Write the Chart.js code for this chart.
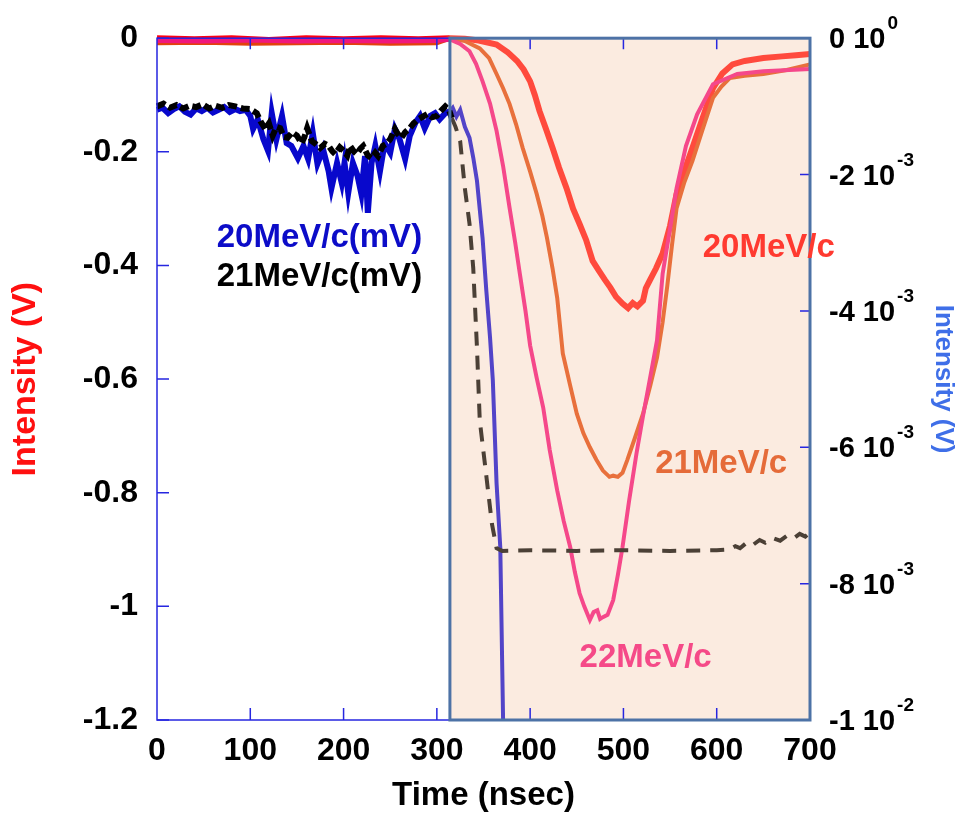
<!DOCTYPE html>
<html>
<head>
<meta charset="utf-8">
<title>Intensity vs time</title>
<script src="https://cdn.jsdelivr.net/npm/chart.js@4.4.1/dist/chart.umd.min.js"></script>
<style>
  html, body { margin: 0; padding: 0; background: #fff; }
  #wrap { width: 959px; height: 816px; }
</style>
</head>
<body>
<div id="wrap"><canvas id="plot" width="959" height="816"></canvas></div>
<script>
const FONT = '"Liberation Sans", Arial, Helvetica, sans-serif';

// the shaded box (close-up traces) starts here, in nsec
const insetStart = 314;

// 20MeV/c and 21MeV/c small signals, in mV (right axis)
const blueTime = [0,6,12,18,24,30,36,42,48,54,60,66,72,78,84,89,95,100,103,108,114,119,123,128,134,139,144,151,157,162,167,172,178,184,187,193,198,201,205,210,215,219,223,226,230,234,239,244,250,255,260,266,271,277,282,287,293,298,303,309,314,317,321,325,330,335,339,343,349,353,357,360,364,368,371];
const blueMv = [-1.05,-1.02,-1.10,-1.04,-1.00,-1.08,-1.12,-1.03,-1.07,-1.02,-1.09,-1.05,-1.01,-1.08,-1.04,-1.07,-1.05,-1.14,-1.33,-1.19,-1.48,-1.65,-1.10,-1.48,-1.14,-1.54,-1.58,-1.76,-1.58,-1.77,-1.39,-1.84,-1.63,-1.95,-2.20,-1.83,-2.12,-1.83,-2.27,-1.83,-2.02,-2.28,-1.73,-2.56,-1.83,-1.58,-1.95,-1.54,-1.68,-1.33,-1.48,-1.77,-1.43,-1.24,-1.14,-1.32,-1.14,-1.10,-1.19,-1.10,-1.07,-1.02,-1.15,-1.05,-1.30,-1.46,-1.75,-2.09,-2.93,-3.70,-4.39,-5.02,-6.53,-7.47,-10.0];

const blackTime = [0,7,14,21,28,35,42,49,56,63,70,77,84,92,100,107,111,116,120,124,128,132,136,140,145,150,155,158,161,166,170,175,180,184,188,191,196,200,204,207,211,214,218,221,226,230,234,237,242,246,250,255,258,262,266,271,275,280,285,290,295,300,304,309,313,316,320,325,330,335,339,343,346,352,359,364,370,400,450,500,550,600,614,620,625,632,638,646,652,660,668,675,682,689,695,700];
const blackMv = [-1.00,-0.96,-1.02,-0.98,-1.03,-0.99,-1.01,-0.97,-1.03,-0.99,-1.02,-0.98,-1.00,-1.03,-1.04,-1.10,-1.22,-1.33,-1.25,-1.43,-1.30,-1.32,-1.45,-1.46,-1.38,-1.43,-1.54,-1.45,-1.32,-1.51,-1.55,-1.61,-1.55,-1.58,-1.66,-1.70,-1.60,-1.65,-1.72,-1.58,-1.66,-1.70,-1.62,-1.58,-1.72,-1.76,-1.68,-1.73,-1.58,-1.55,-1.48,-1.33,-1.40,-1.46,-1.38,-1.32,-1.25,-1.19,-1.15,-1.11,-1.16,-1.14,-1.07,-1.00,-1.05,-1.17,-1.30,-1.51,-2.20,-2.72,-3.37,-4.54,-5.61,-6.30,-7.12,-7.48,-7.52,-7.51,-7.52,-7.51,-7.52,-7.51,-7.50,-7.45,-7.48,-7.40,-7.44,-7.36,-7.40,-7.33,-7.37,-7.30,-7.34,-7.27,-7.31,-7.25];

// large signals, in V (left axis)
const red20Time = [0,40,80,120,160,200,240,280,314,330,345,364,376,386,393,400,405,410,417,424,431,439,446,453,460,467,474,480,486,492,499,505,510,515,521,524,528,535,542,550,557,565,574,585,596,606,617,630,650,670,685,700];
const red20V = [0,-0.002,0,-0.003,0,-0.002,0,-0.002,0,-0.001,-0.004,-0.011,-0.025,-0.040,-0.055,-0.076,-0.100,-0.128,-0.160,-0.193,-0.228,-0.264,-0.300,-0.327,-0.355,-0.392,-0.410,-0.425,-0.439,-0.455,-0.467,-0.475,-0.466,-0.472,-0.462,-0.440,-0.427,-0.405,-0.379,-0.330,-0.274,-0.235,-0.193,-0.140,-0.088,-0.062,-0.046,-0.040,-0.035,-0.032,-0.030,-0.028];

const orange21Time = [0,50,100,150,200,250,300,314,330,346,356,364,371,378,385,392,400,407,413,418,424,429,435,443,450,457,464,471,478,485,489,494,499,504,512,521,529,536,542,547,552,557,565,574,585,596,605,614,630,650,675,700];
const orange21V = [-0.008,-0.007,-0.009,-0.008,-0.007,-0.009,-0.008,0,-0.005,-0.018,-0.035,-0.063,-0.088,-0.116,-0.152,-0.193,-0.235,-0.274,-0.312,-0.351,-0.405,-0.457,-0.555,-0.612,-0.661,-0.695,-0.720,-0.742,-0.761,-0.772,-0.770,-0.772,-0.765,-0.743,-0.705,-0.661,-0.610,-0.562,-0.500,-0.436,-0.365,-0.299,-0.255,-0.216,-0.160,-0.105,-0.085,-0.070,-0.066,-0.063,-0.056,-0.046];

const pink22Time = [0,50,100,150,200,250,300,314,325,335,342,349,357,364,371,378,384,389,395,400,407,414,421,429,436,443,448,453,458,464,468,472,475,478,483,489,494,499,506,514,521,528,536,542,550,557,567,579,596,622,650,700];
const pink22V = [-0.004,-0.005,-0.003,-0.005,-0.004,-0.005,-0.004,-0.002,-0.010,-0.023,-0.045,-0.076,-0.115,-0.163,-0.225,-0.299,-0.360,-0.415,-0.480,-0.541,-0.598,-0.650,-0.725,-0.796,-0.850,-0.896,-0.940,-0.977,-1.000,-1.024,-1.010,-1.007,-1.022,-1.019,-1.015,-0.989,-0.945,-0.896,-0.815,-0.731,-0.665,-0.603,-0.532,-0.415,-0.335,-0.264,-0.190,-0.134,-0.081,-0.063,-0.058,-0.054];

// right axis tick labels, "mantissa 10^exp"
const rightTickValues = [0, -0.002, -0.004, -0.006, -0.008, -0.01];
const rightTickMant = ['0', '-2', '-4', '-6', '-8', '-1'];
const rightTickExp = ['0', '-3', '-3', '-3', '-3', '-2'];

// curve labels: text, colour, anchor (nsec, V on left axis)
const curveLabels = [
  { text: '20MeV/c(mV)', color: '#0c0cc8', x: 64, y: -0.351 },
  { text: '21MeV/c(mV)', color: '#000000', x: 64, y: -0.421 },
  { text: '20MeV/c', color: '#ff3a30', x: 585, y: -0.369 },
  { text: '21MeV/c', color: '#e56b39', x: 534, y: -0.750 },
  { text: '22MeV/c', color: '#f54a88', x: 453, y: -1.090 }
];

const pts = (xs, ys, k) => xs.map((t, i) => ({ x: t, y: ys[i] * (k || 1) }));
const inInset = c => c.p0.parsed.x >= insetStart;

const datasets = [
  {
    label: '21MeV/c(mV)', yAxisID: 'y2', data: pts(blackTime, blackMv, 0.001),
    borderColor: '#000', borderWidth: 6, borderDash: [9, 4],
    segment: {
      borderColor: c => inInset(c) ? '#4b4036' : undefined,
      borderWidth: c => inInset(c) ? 4 : undefined,
      borderDash: c => inInset(c) ? [14, 10] : undefined
    }
  },
  {
    label: '20MeV/c(mV)', yAxisID: 'y2', data: pts(blueTime, blueMv, 0.001),
    borderColor: '#0808cc', borderWidth: 6,
    segment: {
      borderColor: c => inInset(c) ? '#5244c8' : undefined,
      borderWidth: c => inInset(c) ? 4 : undefined
    }
  },
  {
    label: '22MeV/c', yAxisID: 'y', data: pts(pink22Time, pink22V),
    borderColor: '#f0177c', borderWidth: 5,
    segment: {
      borderColor: c => inInset(c) ? '#f5488a' : undefined,
      borderWidth: c => inInset(c) ? 4 : undefined
    }
  },
  {
    label: '21MeV/c', yAxisID: 'y', data: pts(orange21Time, orange21V),
    borderColor: '#e2420c', borderWidth: 5,
    segment: {
      borderColor: c => inInset(c) ? '#e8703c' : undefined,
      borderWidth: c => inInset(c) ? 4 : undefined
    }
  },
  {
    label: '20MeV/c', yAxisID: 'y', data: pts(red20Time, red20V),
    borderColor: '#ff0010', borderWidth: 6,
    segment: {
      borderColor: c => inInset(c) ? '#ff4a3d' : undefined
    }
  }
];
datasets.forEach(d => { d.pointRadius = 0; d.tension = 0; d.fill = false; d.clip = 6; });

// shaded close-up box, inward ticks, frame and all hand placed text
const decor = {
  id: 'decor',
  beforeDatasetsDraw(chart) {
    const { ctx, chartArea: a, scales } = chart;
    const x0 = scales.x.getPixelForValue(insetStart);
    ctx.save();
    ctx.fillStyle = '#fbebe0';
    ctx.fillRect(x0, a.top, a.right - x0, a.bottom - a.top);
    ctx.restore();
  },
  afterDatasetsDraw(chart) {
    const { ctx, chartArea: a, scales } = chart;
    ctx.save();
    ctx.strokeStyle = '#2626e0';
    ctx.lineWidth = 1.5;
    ctx.strokeRect(a.left, a.top, a.right - a.left, a.bottom - a.top);
    ctx.beginPath();
    scales.x.ticks.forEach(t => {
      if (t.value <= 0 || t.value >= 700) return;
      const px = scales.x.getPixelForValue(t.value);
      ctx.moveTo(px, a.bottom); ctx.lineTo(px, a.bottom - 12);
      ctx.moveTo(px, a.top); ctx.lineTo(px, a.top + 11);
    });
    scales.y.ticks.forEach(t => {
      const py = scales.y.getPixelForValue(t.value);
      ctx.moveTo(a.left, py); ctx.lineTo(a.left + 12, py);
    });
    rightTickValues.forEach(v => {
      const py = scales.y2.getPixelForValue(v);
      ctx.moveTo(a.right, py); ctx.lineTo(a.right - 10, py);
    });
    ctx.stroke();

    const x0 = scales.x.getPixelForValue(insetStart);
    ctx.strokeStyle = '#4d72a6';
    ctx.lineWidth = 3;
    ctx.strokeRect(x0, a.top, a.right - x0, a.bottom - a.top);
    ctx.restore();
  },
  afterDraw(chart) {
    const { ctx, chartArea: a, scales } = chart;
    ctx.save();
    ctx.textBaseline = 'alphabetic';
    ctx.textAlign = 'left';
    ctx.fillStyle = '#000';
    rightTickValues.forEach((v, i) => {
      const py = scales.y2.getPixelForValue(v);
      const x = a.right + 19;
      ctx.font = 'bold 29px ' + FONT;
      const main = rightTickMant[i] + ' 10';
      ctx.fillText(main, x, py + 10);
      const w = ctx.measureText(main).width;
      ctx.font = 'bold 19px ' + FONT;
      ctx.fillText(rightTickExp[i], x + w + 2, py - 9);
    });

    ctx.font = 'bold 33px ' + FONT;
    ctx.textBaseline = 'middle';
    curveLabels.forEach(l => {
      ctx.fillStyle = l.color;
      ctx.fillText(l.text, scales.x.getPixelForValue(l.x), scales.y.getPixelForValue(l.y));
    });
    ctx.restore();
  }
};

new Chart(document.getElementById('plot'), {
  type: 'line',
  data: { datasets },
  options: {
    responsive: false,
    animation: false,
    events: [],
    layout: { padding: { top: 35, left: 0, right: 0, bottom: 0 } },
    plugins: { legend: { display: false }, tooltip: { enabled: false } },
    scales: {
      x: {
        type: 'linear', min: 0, max: 700,
        grid: { display: false, drawTicks: false },
        border: { display: false },
        ticks: { stepSize: 100, padding: 12, color: '#000', font: { family: FONT, size: 32, weight: 'bold' }, maxRotation: 0 },
        title: { display: true, text: 'Time (nsec)', color: '#000', font: { family: FONT, size: 33, weight: 'bold' }, padding: { top: 0, bottom: 0 } },
        afterFit: s => { s.height = 96; }
      },
      y: {
        position: 'left', min: -1.2, max: 0,
        grid: { display: false, drawTicks: false },
        border: { display: false },
        ticks: { stepSize: 0.2, padding: 19, color: '#000', font: { family: FONT, size: 32, weight: 'bold' },
                 callback: v => String(Math.round(v * 10) / 10) },
        title: { display: true, text: 'Intensity (V)', color: '#ff1010', font: { family: FONT, size: 34, weight: 'bold' }, padding: { top: 5, bottom: 0 } },
        afterFit: s => { s.width = 157; }
      },
      y2: {
        position: 'right', min: -0.01, max: 0,
        grid: { display: false, drawTicks: false },
        border: { display: false },
        ticks: { display: false, stepSize: 0.002 },
        title: { display: true, text: 'Intensity (V)', color: '#3f6fe8', font: { family: FONT, size: 26, weight: 'bold' }, padding: { top: 0, bottom: 0 } },
        afterFit: s => { s.width = 149; }
      }
    }
  },
  plugins: [decor]
});
</script>
</body>
</html>
